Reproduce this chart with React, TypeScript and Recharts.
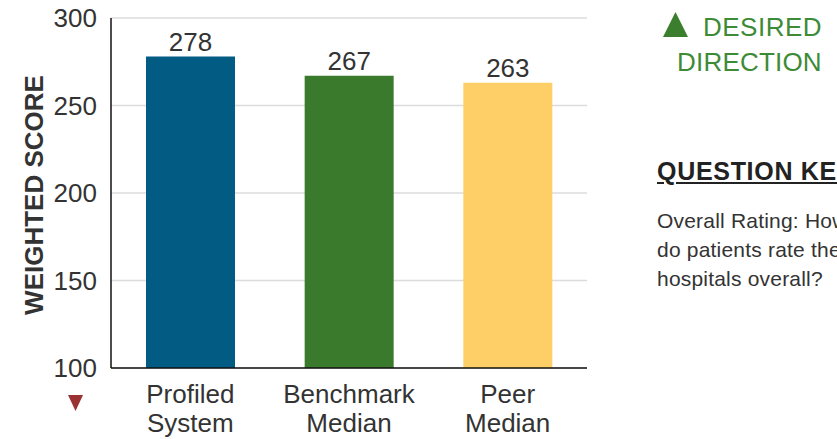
import React from 'react';
import { BarChart, Bar, XAxis, YAxis, CartesianGrid, Cell, LabelList } from 'recharts';

const groups = ['Profiled System', 'Benchmark Median', 'Peer Median'];
const scores = [278, 267, 263];
const barColors = ['#025b83', '#3a7a2c', '#fecf66'];
const yTicks = [100, 150, 200, 250, 300];

const rows = groups.map((name, i) => ({ name, score: scores[i] }));

const FONT = '"Liberation Sans", Arial, Helvetica, sans-serif';
const TEXT = '#333333';

// two-line category labels under each bar
function GroupTick(props: any) {
  const { x, y, payload } = props;
  const lines = String(payload.value).split(' ');
  return (
    <text x={x} y={y} textAnchor="middle" fill={TEXT} fontSize={26} fontFamily={FONT}>
      {lines.map((ln: string, i: number) => (
        <tspan key={i} x={x} dy={i === 0 ? 35 : 29}>
          {ln}
        </tspan>
      ))}
    </text>
  );
}

function AxisTitle(props: any) {
  const vb = props.viewBox || { x: 0, y: 0, width: 0, height: 0 };
  const cx = vb.x + 43;
  const cy = vb.y + vb.height / 2 + 2;
  return (
    <text
      x={cx}
      y={cy}
      transform={`rotate(-90, ${cx}, ${cy})`}
      textAnchor="middle"
      fontSize={26}
      fontWeight="bold"
      fill={TEXT}
      fontFamily={FONT}
    >
      WEIGHTED SCORE
    </text>
  );
}

export default function App() {
  return (
    <div
      style={{
        position: 'absolute',
        left: 0,
        top: 0,
        width: 837,
        height: 439,
        overflow: 'hidden',
        background: '#fff',
        fontFamily: FONT,
      }}
    >
      <BarChart
        width={600}
        height={439}
        data={rows}
        margin={{ top: 18, right: 13, bottom: 0, left: 0 }}
        barSize={89}
      >
        <CartesianGrid vertical={false} stroke="#dcdcdc" strokeWidth={1.5} />
        <XAxis
          dataKey="name"
          height={71}
          tickSize={0}
          tickMargin={0}
          axisLine={{ stroke: '#111', strokeWidth: 1.5 }}
          tickLine={false}
          tick={<GroupTick />}
          interval={0}
        />
        <YAxis
          width={111}
          domain={[100, 300]}
          ticks={yTicks}
          allowDataOverflow
          tickSize={0}
          tickMargin={14}
          tickLine={false}
          axisLine={{ stroke: '#111', strokeWidth: 1.5 }}
          tick={{ fill: TEXT, fontSize: 26, fontFamily: FONT }}
          label={<AxisTitle />}
        />
        <Bar dataKey="score" isAnimationActive={false}>
          {rows.map((r, i) => (
            <Cell key={r.name} fill={barColors[i]} />
          ))}
          <LabelList
            dataKey="score"
            position="top"
            offset={6}
            fill={TEXT}
            fontSize={26}
            fontFamily={FONT}
          />
        </Bar>
      </BarChart>

      <svg
        width={837}
        height={439}
        style={{ position: 'absolute', left: 0, top: 0, pointerEvents: 'none' }}
      >
        <polygon points="68,395 83,395 75.5,411" fill="#9b3131" />
        <polygon points="663,37 688,37 675.5,12" fill="#3b7f2e" />
      </svg>

      <div style={{ position: 'absolute', left: 703, top: 14, fontSize: 26, lineHeight: '26px', letterSpacing: 0.5, color: '#3d8b37', whiteSpace: 'nowrap' }}>
        DESIRED
      </div>
      <div style={{ position: 'absolute', left: 677, top: 49, fontSize: 26, lineHeight: '26px', letterSpacing: 0.2, color: '#3d8b37', whiteSpace: 'nowrap' }}>
        DIRECTION
      </div>
      <div
        style={{
          position: 'absolute',
          left: 657,
          top: 159,
          fontSize: 25,
          lineHeight: '25px',
          letterSpacing: 0.7,
          fontWeight: 'bold',
          color: '#222',
          textDecoration: 'underline',
          whiteSpace: 'nowrap',
        }}
      >
        QUESTION KEY
      </div>
      <div
        style={{
          position: 'absolute',
          left: 657,
          top: 206,
          fontSize: 21,
          lineHeight: '29px',
          letterSpacing: 0.2,
          color: TEXT,
          whiteSpace: 'nowrap',
        }}
      >
        Overall Rating: How
        <br />
        do patients rate their
        <br />
        hospitals overall?
      </div>
    </div>
  );
}
